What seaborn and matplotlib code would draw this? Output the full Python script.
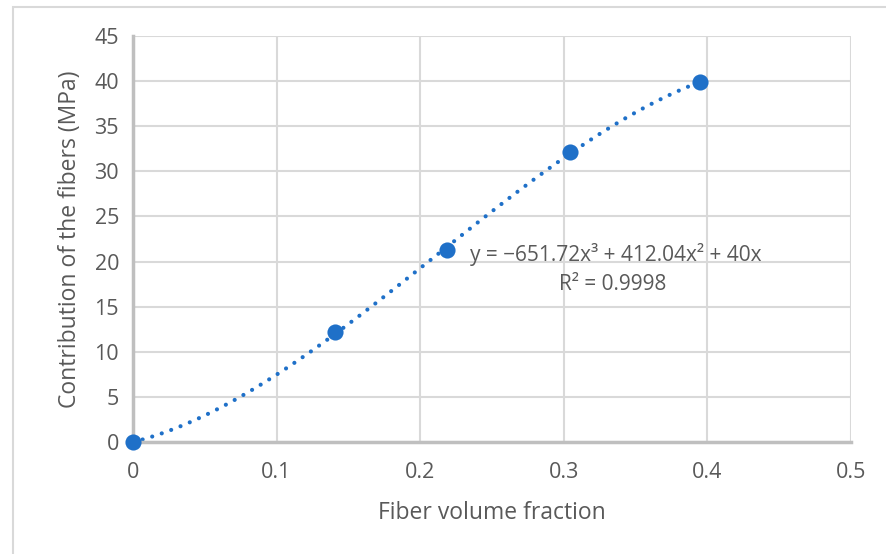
import numpy as np
import pandas as pd
import matplotlib.pyplot as plt
import seaborn as sns
from matplotlib.patches import Rectangle

# Data
fiber_fraction = [0.0, 0.141, 0.219, 0.304, 0.395]
contribution = [0.0, 12.2, 21.3, 32.1, 39.9]

# Trendline coefficients as printed on the chart (x^3, x^2, x, const)
trend_coeffs = [-651.72, 412.04, 40.0, 0.0]
trend_label = "y = \u2212651.72x\u00b3 + 412.04x\u00b2 + 40x"
r2_label = "R\u00b2 = 0.9998"

x_ticks = [0, 0.1, 0.2, 0.3, 0.4, 0.5]
x_tick_labels = ["0", "0.1", "0.2", "0.3", "0.4", "0.5"]
y_ticks = [0, 5, 10, 15, 20, 25, 30, 35, 40, 45]

sns.set_style("white")
plt.rcParams['font.family'] = ['Open Sans', 'DejaVu Sans']

text_color = '#595959'
grid_color = '#D9D9D9'
blue = '#1F70C8'

df = pd.DataFrame({'x': fiber_fraction, 'y': contribution})
xs = np.linspace(0, max(fiber_fraction), 300)
trend = pd.DataFrame({'x': xs, 'y': np.polyval(trend_coeffs, xs)})

fig = plt.figure(figsize=(8.86, 5.54), dpi=100)
ax = fig.add_axes([0.150, 0.202, 0.8105, 0.733])

# chart border like the Excel chart area
fig.patches.append(Rectangle((13 / 886, -0.05), 1.0, 1.05 - 7 / 554, transform=fig.transFigure,
                             fill=False, edgecolor='#D9D9D9', linewidth=1.5, zorder=0))

sns.lineplot(data=trend, x='x', y='y', ax=ax, color=blue, linewidth=3.0,
             linestyle=(0, (0.01, 2.4)), dash_capstyle='round', zorder=2)
sns.scatterplot(data=df, x='x', y='y', ax=ax, color=blue, s=135, edgecolor=blue,
                linewidth=0, zorder=3, clip_on=False)

ax.set_xlim(0, 0.5)
ax.set_ylim(0, 45)
ax.set_xticks(x_ticks)
ax.set_xticklabels(x_tick_labels)
ax.set_yticks(y_ticks)
ax.grid(True, color=grid_color, linewidth=1.5)
ax.set_axisbelow(True)

for side in ['top', 'right']:
    ax.spines[side].set_visible(False)
for side in ['left', 'bottom']:
    ax.spines[side].set_color('#BFBFBF')
    ax.spines[side].set_linewidth(2.5)

ax.tick_params(axis='both', length=0, labelsize=15.5, labelcolor=text_color)
ax.tick_params(axis='x', pad=14)
ax.tick_params(axis='y', pad=10)
ax.set_xlabel('Fiber volume fraction', fontsize=16.5, color=text_color, labelpad=13)
ax.set_ylabel('Contribution of the fibers (MPa)', fontsize=16.5, color=text_color, labelpad=9)

ax.text(0.336, 20.8, trend_label, fontsize=15, color=text_color, ha='center', va='center')
ax.text(0.334, 17.5, r2_label, fontsize=15, color=text_color, ha='center', va='center')

plt.savefig('out.png', dpi=100)
